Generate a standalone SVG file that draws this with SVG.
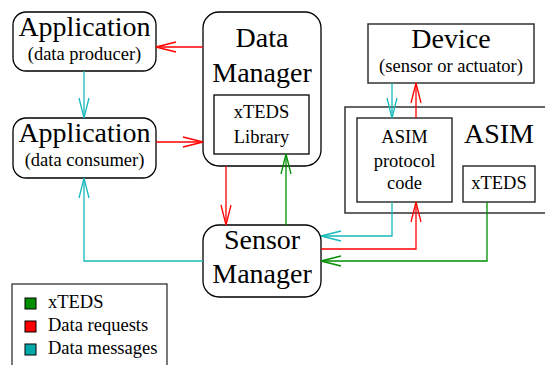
<svg xmlns="http://www.w3.org/2000/svg" width="545" height="365" viewBox="0 0 545 365">
<style>
text{font-family:"Liberation Serif","Times New Roman",serif;fill:#000;text-anchor:middle}
.big{font-size:28px}
.sm{font-size:18.5px}
.box{fill:#fff;stroke:#000;stroke-width:1.3}
.gbox{fill:#fff;stroke:#333;stroke-width:1.5}
.c{fill:none;stroke:#19b9b9;stroke-width:1.3}
.r{fill:none;stroke:#ff0000;stroke-width:1.3}
.g{fill:none;stroke:#008f00;stroke-width:1.3}
.leg{text-anchor:start;font-size:18.5px}
</style>
<defs>
<marker id="mc" markerUnits="userSpaceOnUse" markerWidth="24" markerHeight="14" refX="21" refY="6" orient="auto" viewBox="-1 0 24 12"><path d="M1,1 L21,6 L1,11" fill="none" stroke="#19b9b9" stroke-width="1.3"/></marker>
<marker id="mr" markerUnits="userSpaceOnUse" markerWidth="24" markerHeight="14" refX="21" refY="6" orient="auto" viewBox="-1 0 24 12"><path d="M1,1 L21,6 L1,11" fill="none" stroke="#ff0000" stroke-width="1.3"/></marker>
<marker id="mg" markerUnits="userSpaceOnUse" markerWidth="24" markerHeight="14" refX="21" refY="6" orient="auto" viewBox="-1 0 24 12"><path d="M1,1 L21,6 L1,11" fill="none" stroke="#008f00" stroke-width="1.3"/></marker>
</defs>
<g id="app-producer">
<rect class="box" x="13" y="12" width="143" height="59" rx="13"/>
<text class="big" x="84.5" y="36">Application</text>
<text class="sm" x="84.5" y="60">(data producer)</text>
</g>
<g id="app-consumer">
<rect class="box" x="13" y="118" width="143" height="60" rx="13"/>
<text class="big" x="84.5" y="142">Application</text>
<text class="sm" x="84.5" y="166">(data consumer)</text>
</g>
<g id="data-manager">
<rect class="box" x="203" y="12" width="118" height="154" rx="16"/>
<text class="big" x="262" y="47">Data</text>
<text class="big" x="262" y="82">Manager</text>
<rect class="box" x="214" y="95" width="95" height="59"/>
<text class="sm" x="261.5" y="118">xTEDS</text>
<text class="sm" x="261.5" y="143">Library</text>
</g>
<g id="device">
<rect class="gbox" x="368" y="24" width="166" height="59"/>
<text class="big" x="451" y="48">Device</text>
<text class="sm" x="451" y="72">(sensor or actuator)</text>
</g>
<g id="asim">
<rect class="gbox" x="345" y="107" width="210" height="106"/>
<text class="big" x="499" y="143">ASIM</text>
<g id="asim-protocol">
<rect class="gbox" x="357" y="118" width="95" height="84"/>
<text class="sm" x="404.5" y="143">ASIM</text>
<text class="sm" x="404.5" y="167">protocol</text>
<text class="sm" x="404.5" y="189">code</text>
</g>
<g id="asim-xteds">
<rect class="gbox" x="463" y="166" width="72" height="36"/>
<text class="sm" x="499" y="189">xTEDS</text>
</g>
</g>
<g id="sensor-manager">
<rect class="box" x="203" y="225" width="118" height="72" rx="16"/>
<text class="big" x="262" y="249">Sensor</text>
<text class="big" x="262" y="283">Manager</text>
</g>
<g id="connectors">
<path class="c" d="M84,71 V118" marker-end="url(#mc)"/>
<path class="r" d="M203,47 H156" marker-end="url(#mr)"/>
<path class="r" d="M156,142 H203" marker-end="url(#mr)"/>
<path class="r" d="M226,166 V225" marker-end="url(#mr)"/>
<path class="g" d="M286,225 V154" marker-end="url(#mg)"/>
<path class="c" d="M392,83 V118" marker-end="url(#mc)"/>
<path class="r" d="M416,118 V83" marker-end="url(#mr)"/>
<path class="c" d="M392,202 V236 H321" marker-end="url(#mc)"/>
<path class="r" d="M321,249 H416 V202" marker-end="url(#mr)"/>
<path class="g" d="M487,202 V261 H321" marker-end="url(#mg)"/>
<path class="c" d="M203,261 H84 V178" marker-end="url(#mc)"/>
</g>
<g id="legend">
<rect x="12" y="284" width="155" height="90" fill="#fff" stroke="#333" stroke-width="1.3"/>
<rect x="25" y="298" width="11" height="11" fill="#008f00" stroke="#000" stroke-width="1"/>
<text class="leg" x="48" y="308">xTEDS</text>
<rect x="25" y="321" width="11" height="11" fill="#ff0000" stroke="#000" stroke-width="1"/>
<text class="leg" x="48" y="331">Data requests</text>
<rect x="25" y="344" width="11" height="11" fill="#00aaaa" stroke="#000" stroke-width="1"/>
<text class="leg" x="48" y="354">Data messages</text>
</g>
</svg>
